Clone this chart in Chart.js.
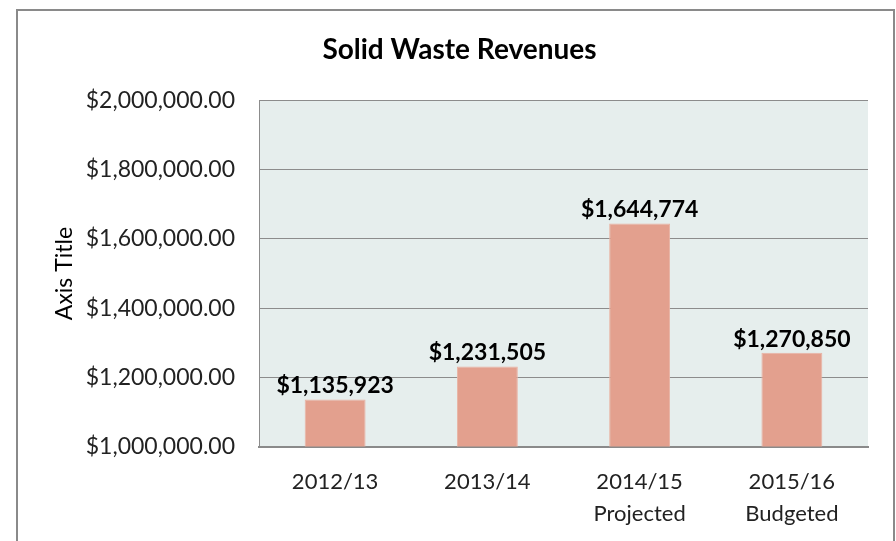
<!DOCTYPE html>
<html><head><meta charset="utf-8">
<script src="https://cdn.jsdelivr.net/npm/chart.js@4/dist/chart.umd.min.js"></script>
<style>html,body{margin:0;padding:0;background:#fff}#c{display:block}</style>
</head><body>
<canvas id="c" width="896" height="541"></canvas>
<script>
const categories = [["2012/13"], ["2013/14"], ["2014/15", "Projected"], ["2015/16", "Budgeted"]];
const revenues = [1135923, 1231505, 1644774, 1270850];
const revenueLabels = ["$1,135,923", "$1,231,505", "$1,644,774", "$1,270,850"];
const yMin = 1000000, yMax = 2000000, yStep = 200000;
const FONT = "Lato, 'Open Sans', sans-serif";

const frame = {
  id: 'frame',
  beforeDraw(chart) {
    const ctx = chart.ctx, a = chart.chartArea;
    ctx.save();
    ctx.fillStyle = '#fff';
    ctx.fillRect(0, 0, chart.width, chart.height);
    ctx.strokeStyle = '#8a8a8a';
    ctx.lineWidth = 2;
    ctx.strokeRect(17, 10, 877, 560);
    ctx.fillStyle = '#e6eeed';
    ctx.fillRect(a.left, a.top, a.right - a.left, a.bottom - a.top);
    ctx.restore();
  },
  afterDatasetsDraw(chart) {
    const ctx = chart.ctx;
    const meta = chart.getDatasetMeta(0);
    ctx.save();
    ctx.font = "bold 23px " + FONT;
    ctx.fillStyle = '#000';
    ctx.textAlign = 'center';
    ctx.textBaseline = 'alphabetic';
    meta.data.forEach((bar, i) => {
      ctx.fillText(revenueLabels[i], bar.x, bar.y - 6);
    });
    ctx.restore();
  }
};

new Chart(document.getElementById('c'), {
  type: 'bar',
  data: {
    labels: categories,
    datasets: [{
      data: revenues,
      backgroundColor: '#e3a08e',
      borderColor: '#eab3a4',
      borderWidth: 1,
      categoryPercentage: 1,
      barPercentage: 0.4
    }]
  },
  options: {
    responsive: false,
    animation: false,
    layout: { padding: { left: 51, right: 28, top: 10, bottom: 0 } },
    plugins: {
      legend: { display: false },
      tooltip: { enabled: false },
      title: {
        display: true,
        text: 'Solid Waste Revenues',
        color: '#000',
        font: { family: FONT, size: 28, weight: 'bold' },
        padding: { top: 23, bottom: 34 }
      }
    },
    scales: {
      x: {
        grid: { display: false },
        border: { display: true, color: '#8a8a8a', width: 2 },
        ticks: {
          color: '#222',
          font: { family: FONT, size: 22, lineHeight: '32px' },
          padding: 11,
          maxRotation: 0
        },
        afterFit(s) { s.height = 94.5; }
      },
      y: {
        min: yMin, max: yMax,
        grid: { color: '#8c8c8c', lineWidth: 1, drawTicks: false },
        border: { display: true, color: '#8c8c8c', width: 1 },
        ticks: {
          stepSize: yStep,
          color: '#222',
          padding: 24,
          font: { family: FONT, size: 23 },
          callback: v => '$' + Number(v).toLocaleString('en-US', { minimumFractionDigits: 2, maximumFractionDigits: 2 })
        },
        title: {
          display: true,
          text: 'Axis Title',
          color: '#000',
          font: { family: FONT, size: 23 },
          padding: 0
        },
        afterFit(s) { s.width = 208; }
      }
    }
  },
  plugins: [frame]
});
</script>
</body></html>
